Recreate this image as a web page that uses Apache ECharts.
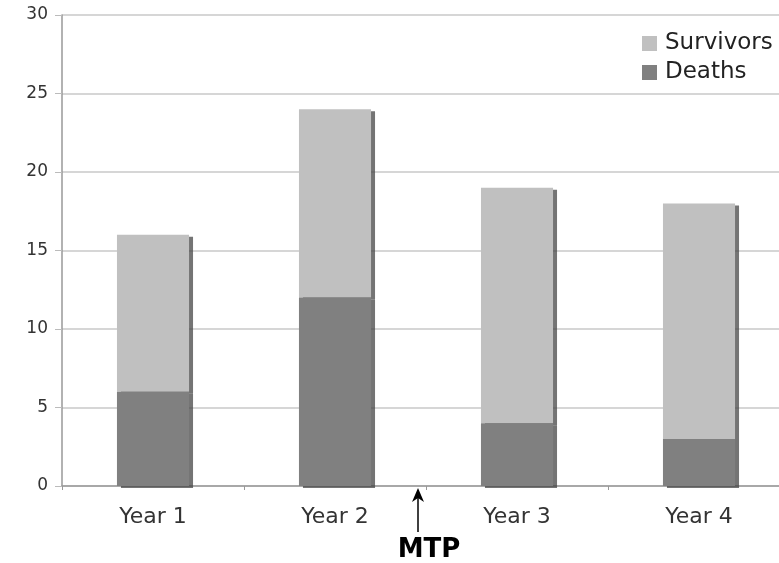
<!DOCTYPE html>
<html><head><meta charset="utf-8">
<script src="https://cdn.jsdelivr.net/npm/echarts@6/dist/echarts.min.js"></script>
<style>html,body{margin:0;padding:0;background:#fff;overflow:hidden;width:779px;height:563px}#c{width:790px;height:563px}</style>
</head><body><div id="c"></div>
<script>
const categories = ['Year 1', 'Year 2', 'Year 3', 'Year 4'];
const deaths = [6, 12, 4, 3];
const survivors = [10, 12, 15, 15];
const yTicks = [0, 5, 10, 15, 20, 25, 30];
const annotationText = 'MTP';

const chart = echarts.init(document.getElementById('c'));
const font = 'DejaVu Sans';
const shadow = {shadowColor: 'rgba(70,70,70,0.75)', shadowOffsetX: 4, shadowOffsetY: 2, shadowBlur: 0};
chart.setOption({
  animation: false,
  textStyle: {fontFamily: font},
  grid: {left: 62, top: 15, height: 471, width: 728},
  legend: {
    left: 642, top: 32, padding: 0, orient: 'vertical', itemGap: 6, itemWidth: 15, itemHeight: 15,
    icon: 'rect', data: ['Survivors', 'Deaths'],
    textStyle: {fontFamily: font, fontSize: 23, color: '#222', padding: [0, 0, 0, 3]}
  },
  xAxis: {
    type: 'category', data: categories,
    axisLine: {lineStyle: {color: '#999', width: 1.5}},
    axisTick: {show: true, length: 4, lineStyle: {color: '#999'}},
    axisLabel: {fontFamily: font, fontSize: 22, color: '#333', margin: 20}
  },
  yAxis: {
    type: 'value', min: yTicks[0], max: yTicks[yTicks.length - 1], interval: 5,
    axisLine: {show: true, lineStyle: {color: '#999', width: 1.5}},
    axisTick: {show: true, length: 7, lineStyle: {color: '#bbb'}},
    splitLine: {lineStyle: {color: '#c8c8c8', width: 1.5}},
    axisLabel: {fontFamily: font, fontSize: 17, color: '#333', margin: 14}
  },
  series: [
    {name: 'Deaths', type: 'bar', stack: 's', data: deaths, barWidth: '39.6%', z: 3,
     itemStyle: Object.assign({color: '#808080'}, shadow)},
    {name: 'Survivors', type: 'bar', stack: 's', data: survivors, barWidth: '39.6%', z: 2,
     itemStyle: Object.assign({color: '#c0c0c0'}, shadow)}
  ]
});

const p2 = chart.convertToPixel({xAxisIndex: 0}, categories[1]);
const p3 = chart.convertToPixel({xAxisIndex: 0}, categories[2]);
const mid = (p2 + p3) / 2;
const x0 = mid - 8;
const yAxisPix = chart.convertToPixel({yAxisIndex: 0}, 0);
chart.setOption({
  graphic: [
    {type: 'line', shape: {x1: x0, y1: yAxisPix + 46, x2: x0, y2: yAxisPix + 10},
     style: {stroke: '#000', lineWidth: 1.5}},
    {type: 'polygon', shape: {points: [[x0, yAxisPix + 2], [x0 - 6, yAxisPix + 16], [x0, yAxisPix + 12], [x0 + 6, yAxisPix + 16]]},
     style: {fill: '#000'}},
    {type: 'text', x: mid + 3, y: yAxisPix + 64,
     style: {text: annotationText, fontFamily: font, fontWeight: 'bold', fontSize: 26, fill: '#000', align: 'center', verticalAlign: 'middle'}}
  ]
});
</script></body></html>
